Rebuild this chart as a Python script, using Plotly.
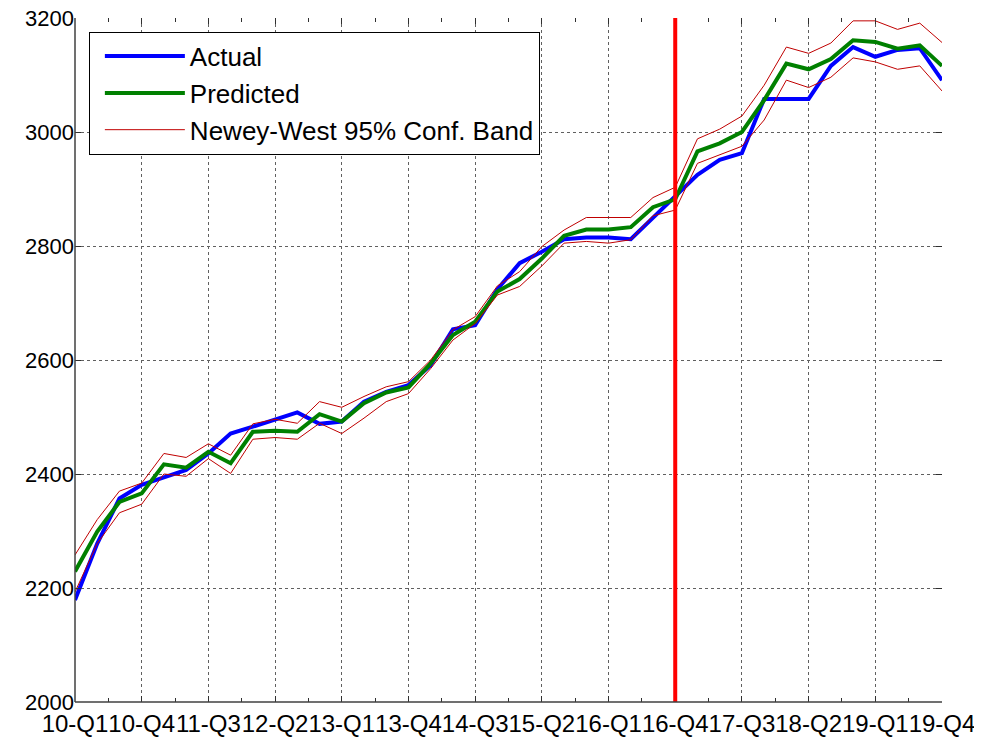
import plotly.graph_objects as go

quarters = [
    "10-Q1", "10-Q2", "10-Q3", "10-Q4", "11-Q1", "11-Q2", "11-Q3", "11-Q4",
    "12-Q1", "12-Q2", "12-Q3", "12-Q4", "13-Q1", "13-Q2", "13-Q3", "13-Q4",
    "14-Q1", "14-Q2", "14-Q3", "14-Q4", "15-Q1", "15-Q2", "15-Q3", "15-Q4",
    "16-Q1", "16-Q2", "16-Q3", "16-Q4", "17-Q1", "17-Q2", "17-Q3", "17-Q4",
    "18-Q1", "18-Q2", "18-Q3", "18-Q4", "19-Q1", "19-Q2", "19-Q3", "19-Q4",
]

actual = [2179, 2278, 2357, 2381, 2394, 2407, 2436, 2471, 2483, 2496,
          2508, 2488, 2492, 2527, 2544, 2556, 2591, 2654, 2661, 2724,
          2770, 2790, 2812, 2815, 2815, 2812, 2849, 2887, 2925, 2951,
          2963, 3058, 3058, 3058, 3116, 3149, 3132, 3144, 3147, 3091]

predicted = [2229, 2299, 2351, 2366, 2417, 2411, 2439, 2419, 2474, 2476,
             2474, 2505, 2492, 2524, 2543, 2552, 2594, 2644, 2667, 2720,
             2742, 2778, 2818, 2829, 2829, 2833, 2868, 2882, 2966, 2980,
             3000, 3056, 3120, 3110, 3128, 3161, 3158, 3146, 3152, 3116]

upper = [2258, 2320, 2370, 2384, 2436, 2429, 2453, 2433, 2488, 2496,
         2489, 2527, 2517, 2536, 2553, 2562, 2600, 2653, 2676, 2730,
         2755, 2799, 2828, 2850, 2850, 2850, 2885, 2903, 2988, 3005,
         3028, 3082, 3149, 3138, 3156, 3195, 3195, 3180, 3191, 3157]

lower = [2193, 2278, 2332, 2347, 2400, 2396, 2427, 2401, 2461, 2464,
         2461, 2489, 2471, 2498, 2527, 2541, 2585, 2635, 2664, 2714,
         2729, 2765, 2805, 2808, 2805, 2811, 2853, 2863, 2945, 2960,
         2975, 3021, 3091, 3078, 3096, 3130, 3123, 3110, 3116, 3072]

tick_labels = ["10-Q1", "10-Q4", "11-Q3", "12-Q2", "13-Q1", "13-Q4", "14-Q3",
               "15-Q2", "16-Q1", "16-Q4", "17-Q3", "18-Q2", "19-Q1", "19-Q4"]
forecast_start = "16-Q4"

y_ticks = [2000, 2200, 2400, 2600, 2800, 3000, 3200]

x = list(range(len(quarters)))
tick_pos = [quarters.index(t) for t in tick_labels]
minor_pos = [(tick_pos[k] + tick_pos[k + 1]) / 2 for k in range(len(tick_pos) - 1)]

FONT = "Liberation Sans, Arial, sans-serif"
BAND = "#c00000"

fig = go.Figure()
fig.add_trace(go.Scatter(x=x, y=actual, mode="lines", name="Actual",
                         line=dict(color="#0000ff", width=4)))
fig.add_trace(go.Scatter(x=x, y=predicted, mode="lines", name="Predicted",
                         line=dict(color="#008000", width=4)))
fig.add_trace(go.Scatter(x=x, y=upper, mode="lines", name="Newey-West 95% Conf. Band",
                         line=dict(color=BAND, width=1)))
fig.add_trace(go.Scatter(x=x, y=lower, mode="lines", name="lower", showlegend=False,
                         line=dict(color=BAND, width=1)))

fig.add_vline(x=quarters.index(forecast_start), line=dict(color="#ff0000", width=4))

# solid left & bottom axis lines
fig.add_shape(type="line", xref="paper", yref="paper", x0=0, x1=0, y0=0, y1=1,
              line=dict(color="#404040", width=1.5))
fig.add_shape(type="line", xref="paper", yref="paper", x0=0, x1=1, y0=0, y1=0,
              line=dict(color="#404040", width=1.5))

# page body adds an 8px offset; margins compensate so the plot area lands at
# x 75..942, y 18..702 in the window
fig.update_layout(
    width=972, height=730,
    margin=dict(l=67, r=38, t=10, b=36, autoexpand=False),
    paper_bgcolor="white", plot_bgcolor="white",
    font=dict(family=FONT, color="black"),
    showlegend=True,
    legend=dict(
        x=0.016, y=0.98, xanchor="left", yanchor="top",
        bgcolor="white", bordercolor="black", borderwidth=1,
        font=dict(size=26, family=FONT, color="black"),
        itemwidth=80, tracegroupgap=0, indentation=10,
    ),
)

fig.update_xaxes(
    range=[0, len(quarters) - 1], automargin=False,
    tickmode="array", tickvals=tick_pos, ticktext=tick_labels, tickangle=0,
    tickfont=dict(size=24, family=FONT, color="black"),
    ticklabeloverflow="allow", ticklabelstandoff=5,
    ticks="inside", ticklen=6, tickcolor="#303030",
    showgrid=True, gridcolor="#606060", griddash="dot", gridwidth=1,
    showline=False, mirror="ticks", zeroline=False,
    minor=dict(tickmode="array", tickvals=minor_pos, ticks="inside", ticklen=4,
               tickcolor="#303030", showgrid=False),
)
fig.update_yaxes(
    range=[2000, 3200], automargin=False,
    tickmode="array", tickvals=y_ticks,
    tickfont=dict(size=22, family=FONT, color="black"),
    ticklabeloverflow="allow",
    ticks="inside", ticklen=6, tickcolor="#303030",
    showgrid=True, gridcolor="#606060", griddash="dot", gridwidth=1,
    showline=False, mirror="ticks", zeroline=False,
)

fig.write_html("out.html")
